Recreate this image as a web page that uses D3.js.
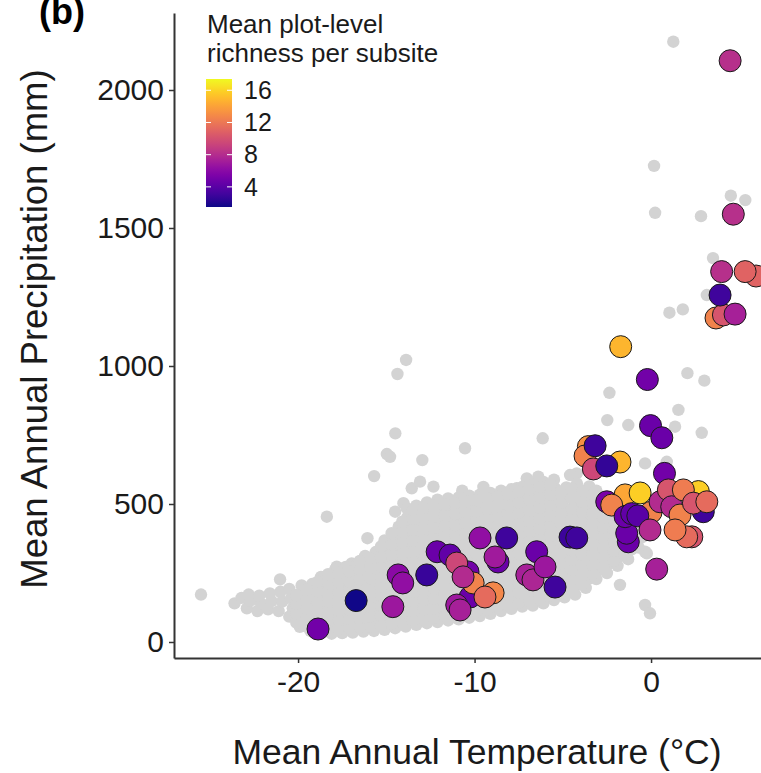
<!DOCTYPE html>
<html>
<head>
<meta charset="utf-8">
<script src="https://cdn.jsdelivr.net/npm/d3@7"></script>
<style>
  html, body { margin: 0; padding: 0; background: #ffffff; }
  svg { display: block; font-family: "Liberation Sans", Arial, sans-serif; }
</style>
</head>
<body>
<svg id="chart" width="761" height="773"></svg>
<script>
// Axis ticks
const xTicks = [-20, -10, 0];
const yTicks = [0, 500, 1000, 1500, 2000];
const legendTicks = [4, 8, 12, 16];
const richnessRange = [1.5, 17.4];

// All sites in the climate space: [mean annual temperature (°C), mean annual precipitation (mm)]
const backgroundSites = [
  [-25.5,172],[-13.88,1022],[-14.37,971],[-14.49,756],[-14.97,681],[-14.79,671],[-12.96,659],[-15.69,601],
  [-13.56,557],[-13.09,581],[-12.33,563],[-10.54,702],[-18.37,454],[-16.07,376],[-14.5,472],[-14.03,503],
  [-13.84,485],[-15.58,303],[-21.02,227],[-17.81,273],[-16.96,285],[-6.14,738],[-2.36,903],[-2.48,804],
  [-1.29,786],[-0.34,647],[0.89,653],[-4.21,611],[-4.59,605],[-7.04,593],[-6.39,599],[-7.61,557],[-5.44,557],
  [-1.76,207],[-0.34,134],[-0.06,104],[-0.24,321],[1.04,1193],[1.8,1205],[2.06,974],[3.02,947],[1.55,841],
  [1.36,780],[2.87,758],[1.26,2175],[0.17,1725],[0.23,1555],[2.83,1543],[4.52,1617],[5.34,1601],[3.51,1391],
  [3.16,1257],[-0.34,327],
  [-23.6,140],[-23.2,160],
  [-22.9,122],[-22.7,150],[-22.8,172],
  [-22.3,112],[-22.1,140],[-22.2,168],
  [-21.7,118],[-21.5,148],[-21.6,176],
  [-21.1,112],[-20.9,146],[-21.0,182],
  [-20.5,92],[-20.3,122],[-20.4,158],[-20.5,192],
  [-19.9,55],[-19.7,88],[-19.8,120],[-19.9,152],[-19.7,186],[-19.8,205],
  [-19.3,40],[-19.1,72],[-19.2,106],[-19.3,138],[-19.1,172],[-19.2,210],
  [-18.7,34],[-18.5,66],[-18.6,100],[-18.7,132],[-18.5,166],[-18.6,200],[-18.7,236],
  [-18.1,30],[-17.9,62],[-18.0,95],[-18.1,128],[-17.9,162],[-18.0,196],[-18.1,230],[-17.9,262],
  [-17.5,32],[-17.3,64],[-17.4,98],[-17.5,132],[-17.3,166],[-17.4,200],[-17.5,234],[-17.3,272],
  [-16.9,34],[-16.7,68],[-16.8,102],[-16.9,136],[-16.7,170],[-16.8,204],[-16.9,240],[-16.7,276],
  [-16.3,38],[-16.1,72],[-16.2,106],[-16.3,140],[-16.1,174],[-16.2,210],[-16.3,246],[-16.1,282],[-16.2,312],
  [-15.7,40],[-15.5,76],[-15.6,110],[-15.7,146],[-15.5,180],[-15.6,216],[-15.7,252],[-15.5,288],[-15.6,326],
  [-15.1,44],[-14.9,80],[-15.0,116],[-15.1,150],[-14.9,186],[-15.0,222],[-15.1,256],[-14.9,292],[-15.0,330],[-15.1,368],
  [-14.5,50],[-14.3,86],[-14.4,120],[-14.5,156],[-14.3,190],[-14.4,226],[-14.5,262],[-14.3,298],[-14.4,336],[-14.5,376],[-14.3,418],
  [-13.9,56],[-13.7,90],[-13.8,126],[-13.9,160],[-13.7,196],[-13.8,232],[-13.9,268],[-13.7,302],[-13.8,342],[-13.9,382],[-13.7,420],[-13.8,452],
  [-13.3,62],[-13.1,96],[-13.2,130],[-13.3,166],[-13.1,200],[-13.2,236],[-13.3,272],[-13.1,306],[-13.2,346],[-13.3,386],[-13.1,426],[-13.2,466],[-13.3,494],
  [-12.7,68],[-12.5,102],[-12.6,136],[-12.7,172],[-12.5,206],[-12.6,242],[-12.7,278],[-12.5,316],[-12.6,352],[-12.7,392],[-12.5,432],[-12.6,470],[-12.7,506],
  [-12.1,72],[-11.9,106],[-12.0,142],[-12.1,176],[-11.9,212],[-12.0,246],[-12.1,282],[-11.9,318],[-12.0,356],[-12.1,396],[-11.9,436],[-12.0,476],[-12.1,516],
  [-11.5,78],[-11.3,112],[-11.4,148],[-11.5,182],[-11.3,218],[-11.4,252],[-11.5,290],[-11.3,326],[-11.4,362],[-11.5,400],[-11.3,440],[-11.4,480],[-11.5,520],
  [-10.9,82],[-10.7,118],[-10.8,152],[-10.9,188],[-10.7,222],[-10.8,258],[-10.9,294],[-10.7,330],[-10.8,368],[-10.9,406],[-10.7,444],[-10.8,484],[-10.9,524],[-10.7,548],
  [-10.3,88],[-10.1,122],[-10.2,158],[-10.3,192],[-10.1,228],[-10.2,262],[-10.3,300],[-10.1,336],[-10.2,372],[-10.3,410],[-10.1,450],[-10.2,490],[-10.3,530],
  [-9.7,94],[-9.5,130],[-9.6,164],[-9.7,200],[-9.5,234],[-9.6,270],[-9.7,306],[-9.5,342],[-9.6,380],[-9.7,418],[-9.5,456],[-9.6,494],[-9.7,534],[-9.5,562],
  [-9.1,102],[-8.9,136],[-9.0,172],[-9.1,208],[-8.9,242],[-9.0,278],[-9.1,312],[-8.9,350],[-9.0,388],[-9.1,426],[-8.9,464],[-9.0,502],[-9.1,540],
  [-8.5,112],[-8.3,148],[-8.4,182],[-8.5,218],[-8.3,252],[-8.4,288],[-8.5,322],[-8.3,360],[-8.4,396],[-8.5,432],[-8.3,470],[-8.4,510],[-8.5,548],
  [-7.9,120],[-7.7,156],[-7.8,190],[-7.9,226],[-7.7,260],[-7.8,296],[-7.9,330],[-7.7,368],[-7.8,404],[-7.9,440],[-7.7,478],[-7.8,518],[-7.9,554],
  [-7.3,128],[-7.1,162],[-7.2,198],[-7.3,232],[-7.1,268],[-7.2,302],[-7.3,338],[-7.1,376],[-7.2,412],[-7.3,450],[-7.1,488],[-7.2,526],[-7.3,562],
  [-6.7,132],[-6.5,168],[-6.6,204],[-6.7,240],[-6.5,276],[-6.6,310],[-6.7,346],[-6.5,382],[-6.6,420],[-6.7,458],[-6.5,496],[-6.6,534],[-6.7,570],
  [-6.1,140],[-5.9,176],[-6.0,212],[-6.1,248],[-5.9,282],[-6.0,318],[-6.1,352],[-5.9,390],[-6.0,428],[-6.1,466],[-5.9,504],[-6.0,544],[-6.1,580],
  [-5.5,152],[-5.3,188],[-5.4,222],[-5.5,258],[-5.3,292],[-5.4,328],[-5.5,364],[-5.3,400],[-5.4,438],[-5.5,476],[-5.3,514],[-5.4,552],[-5.5,588],
  [-4.9,162],[-4.7,198],[-4.8,232],[-4.9,268],[-4.7,302],[-4.8,338],[-4.9,374],[-4.7,410],[-4.8,448],[-4.9,486],[-4.7,524],[-4.8,560],
  [-4.3,172],[-4.1,208],[-4.2,244],[-4.3,280],[-4.1,314],[-4.2,350],[-4.3,388],[-4.1,426],[-4.2,462],[-4.3,500],[-4.1,538],[-4.2,574],
  [-3.7,196],[-3.5,230],[-3.6,266],[-3.7,300],[-3.5,338],[-3.6,376],[-3.7,412],[-3.5,450],[-3.6,490],[-3.7,530],[-3.5,564],
  [-3.1,228],[-2.9,262],[-3.0,298],[-3.1,334],[-2.9,372],[-3.0,410],[-3.1,448],[-2.9,486],[-3.0,520],[-3.1,548],
  [-2.5,250],[-2.3,286],[-2.4,322],[-2.5,360],[-2.3,398],[-2.4,434],[-2.5,470],[-2.3,504],
  [-1.9,276],[-1.7,312],[-1.8,350],[-1.9,388],[-1.7,424],[-1.8,458],
  [-1.3,300],[-1.1,336],[-1.2,372],[-1.3,408],[-1.1,440],
  [-0.7,342],[-0.5,380],[-0.6,416],
  [-20.1,70],[-20.1,105],[-20.1,138],[-20.1,170],
  [-19.5,56],[-19.5,90],[-19.5,122],[-19.5,155],[-19.5,190],
  [-18.9,50],[-18.9,84],[-18.9,116],[-18.9,150],[-18.9,184],[-18.9,218],
  [-18.3,46],[-18.3,80],[-18.3,112],[-18.3,146],[-18.3,180],[-18.3,214],[-18.3,246],
  [-17.7,47],[-17.7,80],[-17.7,115],[-17.7,148],[-17.7,182],[-17.7,216],[-17.7,250],
  [-17.1,50],[-17.1,84],[-17.1,118],[-17.1,152],[-17.1,186],[-17.1,220],[-17.1,256],
  [-16.5,54],[-16.5,88],[-16.5,122],[-16.5,156],[-16.5,190],[-16.5,226],[-16.5,262],[-16.5,294],
  [-15.9,56],[-15.9,92],[-15.9,126],[-15.9,162],[-15.9,196],[-15.9,232],[-15.9,268],[-15.9,304],
  [-15.3,60],[-15.3,96],[-15.3,132],[-15.3,168],[-15.3,202],[-15.3,238],[-15.3,272],[-15.3,310],[-15.3,346],
  [-14.7,66],[-14.7,102],[-14.7,136],[-14.7,172],[-14.7,206],[-14.7,242],[-14.7,278],[-14.7,316],[-14.7,354],[-14.7,394],
  [-14.1,72],[-14.1,106],[-14.1,142],[-14.1,176],[-14.1,212],[-14.1,248],[-14.1,284],[-14.1,320],[-14.1,360],[-14.1,400],[-14.1,436],
  [-13.5,78],[-13.5,112],[-13.5,148],[-13.5,182],[-13.5,218],[-13.5,254],[-13.5,288],[-13.5,326],[-13.5,366],[-13.5,406],[-13.5,446],[-13.5,478],
  [-12.9,84],[-12.9,118],[-12.9,154],[-12.9,188],[-12.9,224],[-12.9,260],[-12.9,296],[-12.9,334],[-12.9,372],[-12.9,412],[-12.9,450],[-12.9,488],
  [-12.3,88],[-12.3,122],[-12.3,158],[-12.3,194],[-12.3,228],[-12.3,264],[-12.3,300],[-12.3,338],[-12.3,376],[-12.3,414],[-12.3,454],[-12.3,494],
  [-11.7,94],[-11.7,128],[-11.7,164],[-11.7,198],[-11.7,234],[-11.7,270],[-11.7,306],[-11.7,344],[-11.7,382],[-11.7,420],[-11.7,460],[-11.7,498],
  [-11.1,100],[-11.1,134],[-11.1,170],[-11.1,204],[-11.1,240],[-11.1,276],[-11.1,312],[-11.1,350],[-11.1,386],[-11.1,424],[-11.1,464],[-11.1,504],
  [-10.5,104],[-10.5,140],[-10.5,174],[-10.5,210],[-10.5,244],[-10.5,280],[-10.5,316],[-10.5,354],[-10.5,390],[-10.5,430],[-10.5,470],[-10.5,510],
  [-9.9,110],[-9.9,146],[-9.9,180],[-9.9,216],[-9.9,250],[-9.9,286],[-9.9,322],[-9.9,360],[-9.9,398],[-9.9,436],[-9.9,474],[-9.9,514],
  [-9.3,118],[-9.3,154],[-9.3,190],[-9.3,224],[-9.3,260],[-9.3,296],[-9.3,332],[-9.3,370],[-9.3,406],[-9.3,444],[-9.3,482],[-9.3,520],
  [-8.7,128],[-8.7,164],[-8.7,200],[-8.7,234],[-8.7,270],[-8.7,304],[-8.7,340],[-8.7,378],[-8.7,414],[-8.7,452],[-8.7,490],[-8.7,528],
  [-8.1,136],[-8.1,172],[-8.1,208],[-8.1,242],[-8.1,278],[-8.1,312],[-8.1,348],[-8.1,386],[-8.1,422],[-8.1,460],[-8.1,498],[-8.1,536],
  [-7.5,142],[-7.5,180],[-7.5,214],[-7.5,250],[-7.5,284],[-7.5,320],[-7.5,356],[-7.5,394],[-7.5,430],[-7.5,468],[-7.5,506],[-7.5,544],
  [-6.9,148],[-6.9,186],[-6.9,222],[-6.9,258],[-6.9,292],[-6.9,328],[-6.9,364],[-6.9,402],[-6.9,438],[-6.9,476],[-6.9,514],[-6.9,552],
  [-6.3,156],[-6.3,194],[-6.3,230],[-6.3,266],[-6.3,300],[-6.3,336],[-6.3,372],[-6.3,410],[-6.3,446],[-6.3,486],[-6.3,524],[-6.3,562],
  [-5.7,168],[-5.7,206],[-5.7,240],[-5.7,276],[-5.7,310],[-5.7,346],[-5.7,384],[-5.7,420],[-5.7,458],[-5.7,496],[-5.7,534],[-5.7,570],
  [-5.1,178],[-5.1,214],[-5.1,250],[-5.1,286],[-5.1,320],[-5.1,356],[-5.1,392],[-5.1,430],[-5.1,466],[-5.1,504],[-5.1,542],
  [-4.5,190],[-4.5,226],[-4.5,262],[-4.5,298],[-4.5,332],[-4.5,368],[-4.5,406],[-4.5,444],[-4.5,482],[-4.5,520],[-4.5,556],
  [-3.9,210],[-3.9,248],[-3.9,284],[-3.9,318],[-3.9,356],[-3.9,394],[-3.9,432],[-3.9,470],[-3.9,510],[-3.9,548],
  [-3.3,246],[-3.3,280],[-3.3,316],[-3.3,352],[-3.3,390],[-3.3,428],[-3.3,466],[-3.3,504],[-3.3,536],
  [-2.7,268],[-2.7,304],[-2.7,340],[-2.7,378],[-2.7,416],[-2.7,452],[-2.7,488],[-2.7,520],
  [-2.1,294],[-2.1,330],[-2.1,368],[-2.1,406],[-2.1,442],[-2.1,478],
  [-1.5,318],[-1.5,354],[-1.5,390],[-1.5,424]
];

// Surveyed subsites: [temperature (°C), precipitation (mm), mean plot-level richness]
const subsites = [
  [-18.87,47,5.0],[-16.71,150,1.6],[-14.33,243,6.0],[-14.07,214,6.3],[-14.63,128,6.8],
  [-12.71,243,2.8],[-12.12,327,4.7],[-11.39,315,4.3],[-10.37,254,5.0],[-11.01,286,9.5],
  [-10.25,163,4.7],[-10.08,214,12.6],[-10.65,236,7.9],[-11.01,134,6.8],[-10.82,116,7.3],
  [-8.95,178,12.8],[-9.41,163,11.4],[-9.69,377,6.3],[-8.18,377,3.0],[-8.67,290,4.7],
  [-8.84,308,7.0],[-6.48,327,4.7],[-7.04,243,7.3],[-6.69,225,7.6],[-6.01,272,6.8],
  [-5.44,199,3.0],[-4.59,380,2.9],[-4.21,377,3.0],
  [-3.55,708,13.3],[-3.74,674,12.6],[-3.27,627,9.5],[-1.76,652,14.8],[-3.17,711,3.0],[-2.51,638,2.6],
  [-1.72,1070,14.8],[-0.21,951,5.0],[-0.03,784,4.7],[0.61,740,4.7],[0.76,611,5.0],
  [-1.29,363,4.7],[-1.38,394,4.7],[2.96,472,3.0],[2.68,545,15.8],[0.0,470,12.6],
  [-2.51,508,5.3],[-1.47,533,14.2],[-2.23,496,12.6],[-0.62,540,15.8],[-1.47,454,4.7],
  [-1.1,465,4.3],[-0.75,457,4.0],[-0.06,406,7.9],[0.51,508,7.9],[0.98,551,10.2],
  [1.17,490,7.9],[1.83,551,12.3],[1.64,460,12.6],[2.31,381,10.2],[2.02,381,11.4],
  [1.36,406,12.3],[2.40,503,10.2],[3.16,508,11.4],[0.32,264,7.3],
  [3.68,1174,12.6],[4.10,1185,10.2],[4.76,1188,7.3],[4.00,1342,8.2],[3.91,1257,3.0],
  [5.95,1326,11.0],[5.33,1342,11.0],[4.48,2106,8.2],[4.66,1550,8.2]
];

const svg = d3.select("#chart");
const textColor = "#1a1a1a";
const axisColor = "#333333";

const x = d3.scaleLinear().domain([-27.03, 7.0]).range([174, 774.6]);
const y = d3.scaleLinear().domain([-58, 2279]).range([658, 13]);
const color = d3.scaleSequential(d3.interpolatePlasma).domain(richnessRange);

// Background climate cloud
svg.append("g")
  .selectAll("circle")
  .data(backgroundSites)
  .join("circle")
  .attr("cx", d => x(d[0]))
  .attr("cy", d => y(d[1]))
  .attr("r", 6.2)
  .attr("fill", "#d3d3d3");

// Subsites coloured by richness
svg.append("g")
  .selectAll("circle")
  .data(subsites)
  .join("circle")
  .attr("cx", d => x(d[0]))
  .attr("cy", d => y(d[1]))
  .attr("r", 11)
  .attr("fill", d => color(d[2]))
  .attr("stroke", "#1a1a1a")
  .attr("stroke-width", 1);

// Axes
const xAxis = svg.append("g")
  .attr("transform", `translate(0,${y.range()[0]})`)
  .call(d3.axisBottom(x).tickValues(xTicks).tickSize(5).tickSizeOuter(0).tickPadding(8)
    .tickFormat(d => d < 0 ? "-" + Math.abs(d) : String(d)));
const yAxis = svg.append("g")
  .attr("transform", `translate(${x.range()[0]},0)`)
  .call(d3.axisLeft(y).tickValues(yTicks).tickSize(5).tickSizeOuter(0).tickPadding(5)
    .tickFormat(d3.format("d")));

[xAxis, yAxis].forEach(g => {
  g.select(".domain").attr("stroke", axisColor).attr("stroke-width", 2);
  g.selectAll(".tick line").attr("stroke", axisColor).attr("stroke-width", 1.5);
  g.selectAll(".tick text")
    .attr("fill", textColor)
    .style("font-size", "30px")
    .style("font-family", "'Liberation Sans', Arial, sans-serif");
});

// Axis titles
svg.append("text")
  .attr("x", 477)
  .attr("y", 764)
  .attr("text-anchor", "middle")
  .attr("fill", textColor)
  .style("font-size", "35.5px")
  .text("Mean Annual Temperature (°C)");

svg.append("text")
  .attr("transform", "translate(47,329) rotate(-90)")
  .attr("text-anchor", "middle")
  .attr("fill", textColor)
  .style("font-size", "36.5px")
  .text("Mean Annual Precipitation (mm)");

// Panel tag
svg.append("text")
  .attr("x", 39)
  .attr("y", 24)
  .attr("fill", "#000")
  .style("font-size", "36px")
  .style("font-weight", "bold")
  .text("(b)");

// Colour bar legend
const legend = svg.append("g");
legend.append("text")
  .attr("x", 207).attr("y", 33)
  .attr("fill", textColor).style("font-size", "26px")
  .text("Mean plot-level");
legend.append("text")
  .attr("x", 207).attr("y", 62)
  .attr("fill", textColor).style("font-size", "26px")
  .text("richness per subsite");

const barX = 206, barW = 26, barTop = 79, barBottom = 207;
const ly = d3.scaleLinear().domain(richnessRange).range([barBottom, barTop]);

const grad = svg.append("defs").append("linearGradient")
  .attr("id", "richnessGradient")
  .attr("x1", 0).attr("y1", 1).attr("x2", 0).attr("y2", 0);
grad.selectAll("stop")
  .data(d3.range(0, 1.0001, 0.05))
  .join("stop")
  .attr("offset", t => t)
  .attr("stop-color", t => d3.interpolatePlasma(t));

legend.append("rect")
  .attr("x", barX).attr("y", barTop)
  .attr("width", barW).attr("height", barBottom - barTop)
  .attr("fill", "url(#richnessGradient)");

legend.selectAll(".lt")
  .data(legendTicks)
  .join("g")
  .each(function (v) {
    const g = d3.select(this);
    g.append("line").attr("x1", barX).attr("x2", barX + 5)
      .attr("y1", ly(v)).attr("y2", ly(v)).attr("stroke", "#fff").attr("stroke-width", 1);
    g.append("line").attr("x1", barX + barW - 5).attr("x2", barX + barW)
      .attr("y1", ly(v)).attr("y2", ly(v)).attr("stroke", "#fff").attr("stroke-width", 1);
    g.append("text")
      .attr("x", barX + barW + 12)
      .attr("y", ly(v))
      .attr("dy", "0.35em")
      .attr("fill", textColor)
      .style("font-size", "25px")
      .text(v);
  });
</script>
</body>
</html>
